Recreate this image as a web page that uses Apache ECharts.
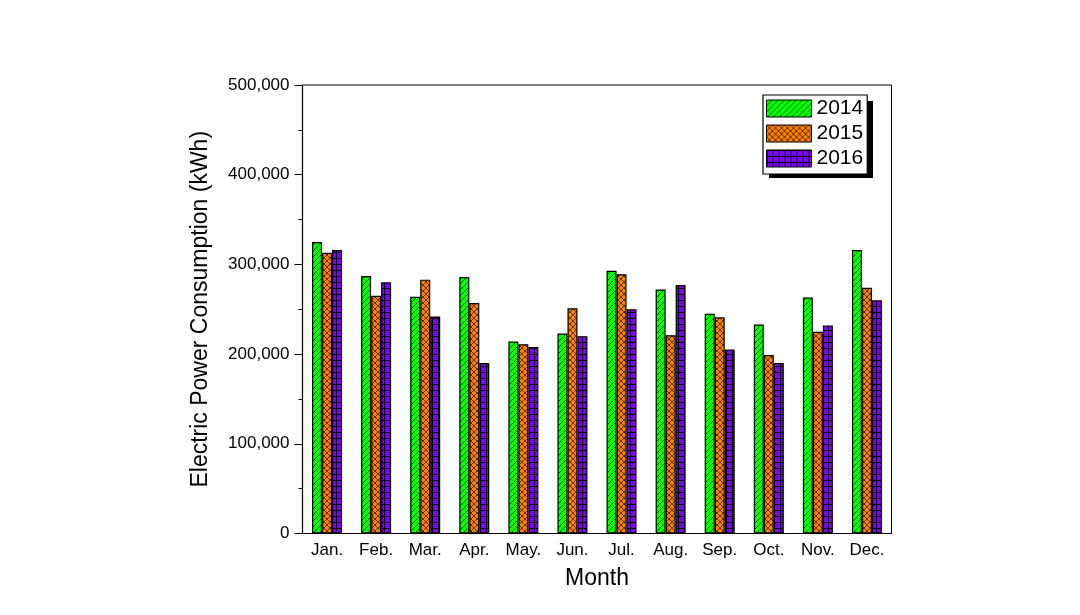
<!DOCTYPE html>
<html>
<head>
<meta charset="utf-8">
<script src="https://cdn.jsdelivr.net/npm/echarts@6/dist/echarts.min.js"></script>
<style>html,body{margin:0;padding:0;background:#fff;}#c{width:1080px;height:615px;}</style>
</head>
<body>
<div id="c"></div>
<script>
const months = ['Jan.', 'Feb.', 'Mar.', 'Apr.', 'May.', 'Jun.', 'Jul.', 'Aug.', 'Sep.', 'Oct.', 'Nov.', 'Dec.'];
const seriesNames = ['2014', '2015', '2016'];
const y2014 = [325000, 287000, 264000, 286000, 214000, 223000, 293000, 272000, 245000, 233000, 263000, 316000];
const y2015 = [313000, 265000, 283000, 257000, 211000, 251000, 289000, 221000, 241000, 199000, 225000, 274000];
const y2016 = [316000, 280000, 242000, 190000, 208000, 220000, 250000, 277000, 205000, 190000, 232000, 260000];

function makeTile(bg, draw) {
  const c = document.createElement('canvas');
  c.width = 6; c.height = 6;
  const ctx = c.getContext('2d');
  ctx.fillStyle = bg; ctx.fillRect(0, 0, 6, 6);
  ctx.strokeStyle = 'rgba(0,0,0,0.7)';
  ctx.lineWidth = 0.9;
  draw(ctx);
  return c;
}
const greenTile = makeTile('#00ff00', function (ctx) {
  ctx.beginPath();
  ctx.moveTo(-1, 7); ctx.lineTo(7, -1);
  ctx.moveTo(-4, 4); ctx.lineTo(4, -4);
  ctx.moveTo(2, 10); ctx.lineTo(10, 2);
  ctx.stroke();
});
const orangeTile = makeTile('#ff8000', function (ctx) {
  ctx.beginPath();
  ctx.moveTo(-1, 7); ctx.lineTo(7, -1);
  ctx.moveTo(-4, 4); ctx.lineTo(4, -4);
  ctx.moveTo(2, 10); ctx.lineTo(10, 2);
  ctx.moveTo(-1, -1); ctx.lineTo(7, 7);
  ctx.moveTo(-4, 2); ctx.lineTo(4, 10);
  ctx.moveTo(2, -4); ctx.lineTo(10, 4);
  ctx.stroke();
});
const purpleTile = makeTile('#8000ff', function (ctx) {
  ctx.fillStyle = '#000';
  ctx.fillRect(0, 0, 6, 1);
  ctx.fillRect(0, 0, 1, 6);
});
const patterns = [greenTile, orangeTile, purpleTile];
const values = [y2014, y2015, y2016];

const FONT = '"Liberation Sans", Arial, sans-serif';
const chart = echarts.init(document.getElementById('c'));
chart.setOption({
  animation: false,
  backgroundColor: '#fff',
  grid: { left: 302.5, right: 188.5, top: 85, bottom: 81.5, show: true, borderColor: '#000', borderWidth: 1, backgroundColor: 'transparent' },
  graphic: [{
    type: 'rect',
    z: 3,
    shape: { x: 769, y: 101, width: 104, height: 77 },
    style: { fill: '#000' }
  }],
  legend: {
    orient: 'vertical',
    left: 763, top: 95,
    z: 6,
    data: seriesNames,
    icon: 'rect',
    itemWidth: 45, itemHeight: 17,
    itemGap: 4,
    padding: [3, 4, 5, 3],
    backgroundColor: '#fff',
    borderColor: '#000', borderWidth: 1.2,
    textStyle: { fontFamily: FONT, fontSize: 21, color: '#000', lineHeight: 21, padding: [0, 0, 0, 0] },
    itemStyle: { borderColor: '#000', borderWidth: 1 },
    selectedMode: false
  },
  xAxis: [{
    type: 'category',
    data: months,
    name: 'Month',
    nameLocation: 'middle',
    nameGap: 34,
    nameTextStyle: { fontFamily: FONT, fontSize: 23, color: '#000' },
    axisLine: { lineStyle: { color: '#000', width: 1.2 } },
    axisTick: { inside: true, length: 5, lineStyle: { color: '#000' } },
    axisLabel: { fontFamily: FONT, fontSize: 17, color: '#000', margin: 8 },
    splitLine: { show: false }
  }, {
    type: 'category',
    data: months,
    position: 'bottom',
    z: 5,
    axisLine: { show: false },
    axisLabel: { show: false },
    axisTick: { inside: true, alignWithLabel: true, length: 5, lineStyle: { color: '#000' } },
    splitLine: { show: false }
  }],
  yAxis: {
    type: 'value',
    min: 0, max: 500000, interval: 100000,
    name: 'Electric Power Consumption (kWh)',
    nameLocation: 'middle',
    nameGap: 90,
    nameTextStyle: { fontFamily: FONT, fontSize: 23, color: '#000' },
    axisLine: { show: true, lineStyle: { color: '#000', width: 1.2 } },
    axisTick: { show: true, length: 8, lineStyle: { color: '#000' } },
    minorTick: { show: true, splitNumber: 2, length: 4, lineStyle: { color: '#000' } },
    axisLabel: {
      fontFamily: FONT, fontSize: 17, color: '#000', margin: 13,
      formatter: function (v) { return v.toLocaleString('en-US'); }
    },
    splitLine: { show: false }
  },
  series: seriesNames.map(function (name, i) {
    return {
      name: name,
      type: 'bar',
      data: values[i],
      barWidth: 10,
      barGap: '0%',
      itemStyle: {
        color: { image: patterns[i], repeat: 'repeat' },
        borderColor: '#000',
        borderWidth: 1.2
      }
    };
  })
});
</script>
</body>
</html>
